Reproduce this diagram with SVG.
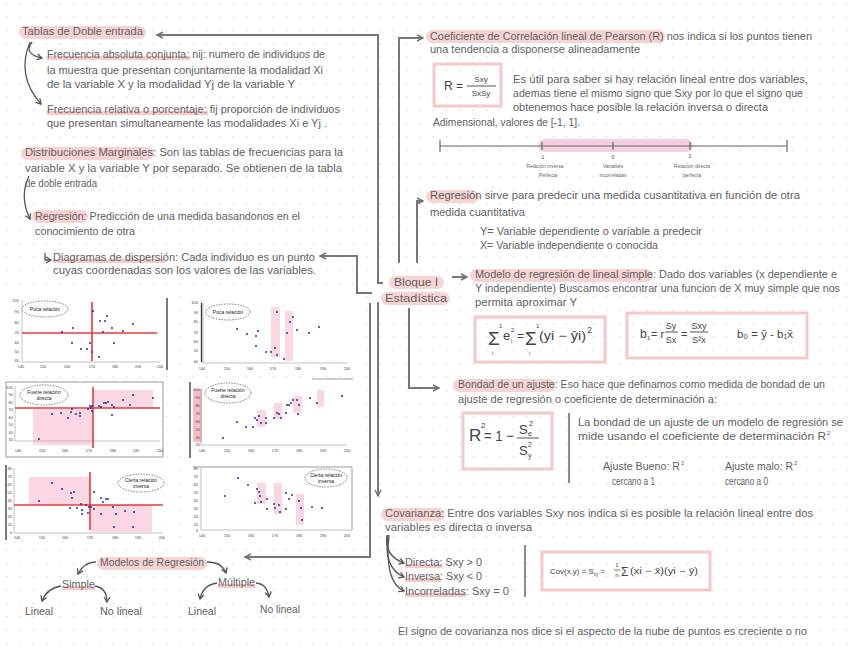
<svg xmlns="http://www.w3.org/2000/svg" width="848" height="656" viewBox="0 0 848 656">
<defs>
<pattern id="grid" x="6" y="3" width="13.33" height="13.33" patternUnits="userSpaceOnUse"><circle cx="0.7" cy="0.7" r="0.7" fill="#c9c9c9"/></pattern>
<marker id="ah" markerUnits="userSpaceOnUse" markerWidth="9" markerHeight="9" refX="7" refY="4" orient="auto"><path d="M1,1 L7,4 L1,7" fill="none" stroke="#707070" stroke-width="1.4"/></marker>
<marker id="ac" markerUnits="userSpaceOnUse" markerWidth="9" markerHeight="9" refX="6" refY="4" orient="auto"><path d="M1,1 L6,4 L1,7" fill="none" stroke="#555" stroke-width="1.3"/></marker>
<style>
.t{font-family:"Liberation Sans","DejaVu Sans",sans-serif;font-size:10px;fill:#616161}
.sup{font-family:"Liberation Sans","DejaVu Sans",sans-serif;font-size:6px;fill:#616161}
.f{font-family:"Liberation Sans","DejaVu Sans",sans-serif;fill:#444}
.s{font-family:"Liberation Sans","DejaVu Sans",sans-serif;font-size:5px;fill:#666;text-anchor:middle}
.n{font-family:"Liberation Sans","DejaVu Sans",sans-serif;font-size:6px;fill:#555;text-anchor:middle}
.pill{fill:#f8d3d3}
.ul{fill:#f7c9c9}
.box{fill:none;stroke:#f6c8c8;stroke-width:3}
.conn{fill:none;stroke:#777;stroke-width:2;marker-end:url(#ah)}
.cv{fill:none;stroke:#555;stroke-width:1.3;marker-end:url(#ac)}
.sep{stroke:#666;stroke-width:1.5}
.ax{stroke:#999;stroke-width:.6}
.bd{stroke:#333;stroke-width:1.3}
.rl{stroke:#e8383d;stroke-width:1.6}
.pk{fill:#fbd7e4}
.d circle{fill:#2a2f8f}
.tk{font-family:"Liberation Sans",sans-serif;font-size:4px;fill:#444}
.tky{font-family:"Liberation Sans",sans-serif;font-size:4px;fill:#444;text-anchor:end}
.el{fill:#fff;stroke:#444;stroke-width:.7;stroke-dasharray:1.5 1.2}
.elt{font-family:"Liberation Sans",sans-serif;font-size:5px;fill:#222;text-anchor:middle}
</style>
</defs>
<rect width="848" height="656" fill="#fff"/>
<rect width="848" height="656" fill="url(#grid)"/>

<g id="connectors">
<path class="conn" d="M383,283 H378 V35 H157"/>
<path class="conn" d="M399,263 V38 H423"/>
<path class="conn" d="M417,263 V201 H423"/>
<path class="conn" d="M372,293 H357 V256 H320"/>
<path class="conn" d="M370,303 V557 H245"/>
<path class="conn" d="M378,302 V496"/>
<path class="conn" d="M409,308 V388 H439"/>
<path class="conn" d="M452,277 H467"/>
<path class="cv" d="M32,42 Q23,54 42,58"/>
<path class="cv" d="M30,42 Q16,76 41,104"/>
<path class="cv" d="M29,176 Q19,196 30,219"/>
<path class="cv" d="M45,253 V260 H51"/>
<path class="cv" d="M96,562 Q84,562 78,574"/>
<path class="cv" d="M207,562 Q222,562 226,573"/>
<path class="cv" d="M61,586 Q47,588 42,601"/>
<path class="cv" d="M95,586 Q107,588 107,602"/>
<path class="cv" d="M217,583 Q203,585 200,599"/>
<path class="cv" d="M256,583 Q267,584 269,597"/>
<path class="cv" d="M387,535 Q384,556 404,563"/>
<path class="cv" d="M388,535 Q383,568 404,577"/>
<path class="cv" d="M389,535 Q384,582 404,591"/>
</g>

<g id="tablas">
<rect class="pill" x="19" y="26" width="127" height="13" rx="6.5"/>
<text class="t" x="22" y="35" textLength="121" lengthAdjust="spacingAndGlyphs">Tablas de Doble entrada</text>
</g>
<g id="frec-abs">
<rect class="ul" x="47" y="56" width="143" height="4"/>
<text class="t" x="47" y="58" textLength="278" lengthAdjust="spacingAndGlyphs">Frecuencia absoluta conjunta: nij: numero de individuos de</text>
<text class="t" x="47" y="74" textLength="276" lengthAdjust="spacingAndGlyphs">la muestra que presentan conjuntamente la modalidad Xi</text>
<text class="t" x="47" y="88" textLength="248" lengthAdjust="spacingAndGlyphs">de la variable X y la modalidad Yj de la variable Y</text>
</g>
<g id="frec-rel">
<rect class="ul" x="47" y="111" width="161" height="4"/>
<text class="t" x="47" y="113" textLength="293" lengthAdjust="spacingAndGlyphs">Frecuencia relativa o porcentaje: fij proporción de individuos</text>
<text class="t" x="47" y="127" textLength="280" lengthAdjust="spacingAndGlyphs">que presentan simultaneamente las modalidades Xi e Yj .</text>
</g>
<g id="distribuciones">
<rect class="pill" x="21" y="147" width="133" height="13" rx="6.5"/>
<text class="t" x="25" y="156" textLength="318" lengthAdjust="spacingAndGlyphs">Distribuciones Marginales: Son las tablas de frecuencias para la</text>
<text class="t" x="25" y="172" textLength="317" lengthAdjust="spacingAndGlyphs">variable X y la variable Y por separado. Se obtienen de la tabla</text>
<text class="t" x="25" y="187" textLength="72" lengthAdjust="spacingAndGlyphs">de doble entrada</text>
</g>
<g id="regresion-izq">
<rect class="pill" x="32" y="210" width="56" height="13" rx="6.5"/>
<text class="t" x="35" y="220" textLength="265" lengthAdjust="spacingAndGlyphs">Regresión: Predicción de una medida basandonos en el</text>
<text class="t" x="35" y="235" textLength="100" lengthAdjust="spacingAndGlyphs">conocimiento de otra</text>
</g>
<g id="diagramas">
<rect class="ul" x="53" y="259" width="112" height="4"/>
<text class="t" x="53" y="261" textLength="262" lengthAdjust="spacingAndGlyphs">Diagramas de dispersión: Cada individuo es un punto</text>
<text class="t" x="53" y="274" textLength="263" lengthAdjust="spacingAndGlyphs">cuyas coordenadas son los valores de las variables.</text>
</g>

<g id="plot1">
<rect x="5" y="296" width="162" height="75" fill="#fff"/>
<line class="ax" x1="22" y1="300" x2="22" y2="362"/><line class="ax" x1="22" y1="362" x2="160" y2="362"/>
<line class="bd" x1="167" y1="298" x2="167" y2="370"/>
<g class="tky"><text x="19" y="302">100</text><text x="19" y="313">90</text><text x="19" y="324">80</text><text x="19" y="334">70</text><text x="19" y="344">60</text><text x="19" y="353">50</text><text x="19" y="362">40</text></g>
<g class="tk" text-anchor="middle"><text x="21" y="368">140</text><text x="43" y="368">150</text><text x="67" y="368">160</text><text x="92" y="368">170</text><text x="115" y="368">180</text><text x="138" y="368">190</text><text x="160" y="368">200</text></g>
<line class="rl" x1="92" y1="302" x2="92" y2="361"/><line class="rl" x1="22" y1="333" x2="157" y2="333"/>
<g class="d"><circle cx="62" cy="332" r="1"/><circle cx="73" cy="328" r="1"/><circle cx="72" cy="343" r="1"/><circle cx="81" cy="349" r="1"/><circle cx="87" cy="349" r="1"/><circle cx="90" cy="343" r="1"/><circle cx="93" cy="311" r="1"/><circle cx="92" cy="352" r="1"/><circle cx="99" cy="357" r="1"/><circle cx="100" cy="321" r="1"/><circle cx="105" cy="321" r="1"/><circle cx="107" cy="316" r="1"/><circle cx="103" cy="332" r="1"/><circle cx="112" cy="328" r="1"/><circle cx="114" cy="343" r="1"/><circle cx="123" cy="331" r="1"/><circle cx="133" cy="324" r="1"/></g>
<ellipse class="el" cx="45" cy="309" rx="23" ry="8"/><text class="elt" x="45" y="311">Poca relación</text>
</g>

<g id="plot2">
<rect x="188" y="296" width="167" height="76" fill="#fff"/>
<line class="bd" x1="201.5" y1="303" x2="201.5" y2="362"/>
<line class="ax" x1="203" y1="302" x2="203" y2="363"/><line class="ax" x1="203" y1="363" x2="347" y2="363"/>
<g class="tky"><text x="198" y="304">100</text><text x="198" y="314">90</text><text x="198" y="323">80</text><text x="198" y="334">70</text><text x="198" y="343">60</text><text x="198" y="352">50</text><text x="198" y="363">40</text></g>
<g class="tk" text-anchor="middle"><text x="202" y="370">140</text><text x="227" y="370">150</text><text x="250" y="370">160</text><text x="273" y="370">170</text><text x="298" y="370">180</text><text x="323" y="370">190</text><text x="347" y="370">200</text></g>
<rect class="pk" x="271" y="307" width="9" height="50"/><rect class="pk" x="285" y="311" width="8" height="50"/>
<g class="d"><circle cx="237" cy="329" r="1"/><circle cx="247" cy="334" r="1"/><circle cx="256" cy="336" r="1"/><circle cx="258" cy="331" r="1"/><circle cx="256" cy="346" r="1"/><circle cx="266" cy="352" r="1"/><circle cx="271" cy="352" r="1"/><circle cx="275" cy="348" r="1"/><circle cx="277" cy="312" r="1"/><circle cx="277" cy="355" r="1"/><circle cx="284" cy="359" r="1"/><circle cx="287" cy="333" r="1"/><circle cx="290" cy="322" r="1"/><circle cx="293" cy="317" r="1"/><circle cx="297" cy="330" r="1"/><circle cx="309" cy="333" r="1"/><circle cx="319" cy="327" r="1"/></g>
<ellipse class="el" cx="228" cy="312" rx="22" ry="8"/><text class="elt" x="228" y="314">Poca relación</text>
</g>

<g id="plot3">
<rect x="6" y="382" width="157" height="75" fill="#fff" stroke="#aaa" stroke-width="1.2"/>
<rect class="pk" x="33" y="409" width="59" height="36"/><rect class="pk" x="93" y="390" width="60" height="18"/>
<line class="ax" x1="15" y1="386" x2="15" y2="441"/><line class="ax" x1="15" y1="441" x2="160" y2="441"/>
<g class="tky"><text x="13" y="389">100</text><text x="13" y="396">90</text><text x="13" y="404">80</text><text x="13" y="411">70</text><text x="13" y="419">60</text><text x="13" y="426">50</text><text x="13" y="434">40</text><text x="13" y="441">30</text></g>
<g class="tk" text-anchor="middle"><text x="18" y="452">140</text><text x="42" y="452">150</text><text x="65" y="452">160</text><text x="89" y="452">170</text><text x="113" y="452">180</text><text x="136" y="452">190</text><text x="160" y="452">200</text></g>
<line class="rl" x1="93" y1="387" x2="93" y2="448"/><line class="rl" x1="15" y1="408" x2="160" y2="408"/>
<g class="d"><circle cx="39" cy="439" r="1"/><circle cx="52" cy="414" r="1"/><circle cx="61" cy="413" r="1"/><circle cx="68" cy="418" r="1"/><circle cx="71" cy="412" r="1"/><circle cx="72" cy="409" r="1"/><circle cx="76" cy="414" r="1"/><circle cx="80" cy="413" r="1"/><circle cx="80" cy="416" r="1"/><circle cx="88" cy="409" r="1"/><circle cx="90" cy="406" r="1"/><circle cx="91" cy="408" r="1"/><circle cx="92" cy="411" r="1"/><circle cx="92" cy="406" r="1"/><circle cx="99" cy="406" r="1"/><circle cx="101" cy="407" r="1"/><circle cx="104" cy="403" r="1"/><circle cx="106" cy="403" r="1"/><circle cx="108" cy="402" r="1"/><circle cx="112" cy="405" r="1"/><circle cx="114" cy="407" r="1"/><circle cx="112" cy="415" r="1"/><circle cx="123" cy="400" r="1"/><circle cx="130" cy="405" r="1"/><circle cx="133" cy="395" r="1"/><circle cx="153" cy="398" r="1"/></g>
<ellipse class="el" cx="44" cy="395" rx="24" ry="10"/><text class="elt" x="44" y="394">Fuerte relación</text><text class="elt" x="44" y="400">directa</text>
</g>

<g id="plot4">
<rect x="188" y="378" width="167" height="80" fill="#fff"/>
<line x1="312" y1="379" x2="353" y2="379" stroke="#999" stroke-width="1"/>
<line class="bd" x1="190" y1="382" x2="190" y2="458"/>
<rect x="193" y="389" width="9" height="53" fill="#f7bcc6"/>
<line class="ax" x1="201" y1="389" x2="201" y2="445"/><line class="ax" x1="201" y1="445" x2="347" y2="445"/>
<g class="tky"><text x="200" y="391">100</text><text x="200" y="399">90</text><text x="200" y="407">80</text><text x="200" y="415">70</text><text x="200" y="423">60</text><text x="200" y="431">50</text><text x="200" y="439">40</text><text x="200" y="446">30</text></g>
<g class="tk" text-anchor="middle"><text x="202" y="452">140</text><text x="227" y="452">150</text><text x="251" y="452">160</text><text x="275" y="452">170</text><text x="299" y="452">180</text><text x="323" y="452">190</text><text x="347" y="452">200</text></g>
<rect class="pk" x="257" y="410" width="9" height="17"/><rect class="pk" x="274" y="403" width="8" height="16"/><rect class="pk" x="293" y="396" width="9" height="17"/><rect class="pk" x="317" y="390" width="7" height="17"/>
<g class="d"><circle cx="223" cy="438" r="1"/><circle cx="237" cy="422" r="1"/><circle cx="246" cy="427" r="1"/><circle cx="253" cy="427" r="1"/><circle cx="255" cy="418" r="1"/><circle cx="257" cy="420" r="1"/><circle cx="259" cy="416" r="1"/><circle cx="261" cy="423" r="1"/><circle cx="266" cy="418" r="1"/><circle cx="266" cy="423" r="1"/><circle cx="274" cy="418" r="1"/><circle cx="277" cy="413" r="1"/><circle cx="279" cy="414" r="1"/><circle cx="281" cy="418" r="1"/><circle cx="286" cy="413" r="1"/><circle cx="287" cy="405" r="1"/><circle cx="289" cy="405" r="1"/><circle cx="291" cy="403" r="1"/><circle cx="293" cy="400" r="1"/><circle cx="297" cy="400" r="1"/><circle cx="298" cy="414" r="1"/><circle cx="299" cy="405" r="1"/><circle cx="310" cy="398" r="1"/><circle cx="317" cy="403" r="1"/><circle cx="342" cy="396" r="1"/></g>
<ellipse class="el" cx="228" cy="393" rx="23" ry="10"/><text class="elt" x="228" y="392">Fuerte relación</text><text class="elt" x="228" y="398">directa</text>
</g>

<g id="plot5">
<rect x="5" y="462" width="162" height="79" fill="#fff"/>
<line class="bd" x1="6" y1="465" x2="6" y2="540"/>
<rect class="pk" x="29" y="477" width="61" height="28"/><rect class="pk" x="90" y="505" width="62" height="27"/>
<line class="ax" x1="14" y1="468" x2="14" y2="533"/><line class="ax" x1="14" y1="533" x2="163" y2="533"/>
<g class="tky"><text x="12" y="470">80</text><text x="12" y="478">70</text><text x="12" y="486">60</text><text x="12" y="494">50</text><text x="12" y="502">40</text><text x="12" y="510">30</text><text x="12" y="518">20</text><text x="12" y="526">10</text><text x="12" y="534">0</text></g>
<g class="tk" text-anchor="middle"><text x="17" y="539">140</text><text x="42" y="539">150</text><text x="65" y="539">160</text><text x="90" y="539">170</text><text x="115" y="539">180</text><text x="138" y="539">190</text><text x="162" y="539">200</text></g>
<line class="rl" x1="90" y1="472" x2="90" y2="530"/><line class="rl" x1="14" y1="505" x2="163" y2="505"/>
<g class="d"><circle cx="39" cy="501" r="1"/><circle cx="52" cy="483" r="1"/><circle cx="62" cy="489" r="1"/><circle cx="71" cy="493" r="1"/><circle cx="72" cy="498" r="1"/><circle cx="74" cy="492" r="1"/><circle cx="70" cy="508" r="1"/><circle cx="77" cy="508" r="1"/><circle cx="81" cy="504" r="1"/><circle cx="82" cy="510" r="1"/><circle cx="82" cy="514" r="1"/><circle cx="86" cy="505" r="1"/><circle cx="88" cy="513" r="1"/><circle cx="89" cy="507" r="1"/><circle cx="91" cy="507" r="1"/><circle cx="94" cy="492" r="1"/><circle cx="94" cy="509" r="1"/><circle cx="101" cy="514" r="1"/><circle cx="101" cy="498" r="1"/><circle cx="103" cy="502" r="1"/><circle cx="106" cy="499" r="1"/><circle cx="108" cy="499" r="1"/><circle cx="113" cy="507" r="1"/><circle cx="114" cy="527" r="1"/><circle cx="116" cy="514" r="1"/><circle cx="125" cy="511" r="1"/><circle cx="134" cy="512" r="1"/><circle cx="133" cy="527" r="1"/></g>
<ellipse class="el" cx="141" cy="483" rx="23" ry="9"/><text class="elt" x="141" y="482">Cierta relación</text><text class="elt" x="141" y="488">inversa</text>
</g>

<g id="plot6">
<rect x="188" y="462" width="167" height="79" fill="#fff"/>
<line x1="193" y1="467" x2="352" y2="467" stroke="#999" stroke-width="1"/>
<line x1="352" y1="467" x2="352" y2="530" stroke="#999" stroke-width="1"/>
<line class="ax" x1="201" y1="468" x2="201" y2="530"/><line class="ax" x1="201" y1="530" x2="352" y2="530"/>
<g class="tky"><text x="198" y="470">80</text><text x="198" y="478">70</text><text x="198" y="486">60</text><text x="198" y="494">50</text><text x="198" y="502">40</text><text x="198" y="510">30</text><text x="198" y="518">20</text><text x="198" y="526">10</text><text x="198" y="532">0</text></g>
<g class="tk" text-anchor="middle"><text x="202" y="537">140</text><text x="227" y="537">150</text><text x="251" y="537">160</text><text x="275" y="537">170</text><text x="299" y="537">180</text><text x="323" y="537">190</text><text x="347" y="537">200</text></g>
<rect class="pk" x="257" y="483" width="9" height="21"/><rect class="pk" x="274" y="483" width="8" height="31"/><rect class="pk" x="296" y="494" width="8" height="31"/>
<g class="d"><circle cx="225" cy="496" r="1"/><circle cx="238" cy="478" r="1"/><circle cx="248" cy="485" r="1"/><circle cx="255" cy="503" r="1"/><circle cx="257" cy="489" r="1"/><circle cx="259" cy="492" r="1"/><circle cx="261" cy="502" r="1"/><circle cx="260" cy="496" r="1"/><circle cx="267" cy="499" r="1"/><circle cx="267" cy="509" r="1"/><circle cx="274" cy="504" r="1"/><circle cx="275" cy="508" r="1"/><circle cx="279" cy="505" r="1"/><circle cx="280" cy="512" r="1"/><circle cx="286" cy="493" r="1"/><circle cx="286" cy="509" r="1"/><circle cx="289" cy="499" r="1"/><circle cx="292" cy="495" r="1"/><circle cx="299" cy="501" r="1"/><circle cx="301" cy="508" r="1"/><circle cx="302" cy="520" r="1"/><circle cx="312" cy="507" r="1"/><circle cx="322" cy="508" r="1"/></g>
<ellipse class="el" cx="326" cy="478" rx="21" ry="9"/><text class="elt" x="326" y="477">Cierta relación</text><text class="elt" x="326" y="483">inversa</text>
</g>

<g id="modelos">
<rect class="pill" x="97" y="557" width="110" height="13" rx="6.5"/>
<text class="t" x="100" y="566" textLength="104" lengthAdjust="spacingAndGlyphs">Modelos de Regresión</text>
</g>
<g id="simple">
<rect class="ul" x="62" y="586" width="33" height="4"/>
<text class="t" x="62" y="588" textLength="33" lengthAdjust="spacingAndGlyphs">Simple</text>
</g>
<g id="multiple">
<rect class="ul" x="218" y="584" width="37" height="4"/>
<text class="t" x="218" y="586" textLength="37" lengthAdjust="spacingAndGlyphs">Múltiple</text>
</g>
<g id="simple-lineal"><text class="t" x="25" y="615" textLength="28" lengthAdjust="spacingAndGlyphs">Lineal</text></g>
<g id="simple-nolineal"><text class="t" x="100" y="615" textLength="42" lengthAdjust="spacingAndGlyphs">No lineal</text></g>
<g id="multiple-lineal"><text class="t" x="188" y="615" textLength="28" lengthAdjust="spacingAndGlyphs">Lineal</text></g>
<g id="multiple-nolineal"><text class="t" x="260" y="613" textLength="40" lengthAdjust="spacingAndGlyphs">No lineal</text></g>

<g id="bloque">
<rect class="pill" x="389" y="276" width="55" height="13" rx="6.5"/>
<rect class="pill" x="381" y="292" width="69" height="13" rx="6.5"/>
<text class="t" x="394" y="285.5" textLength="44" lengthAdjust="spacingAndGlyphs">Bloque I</text>
<text class="t" x="385" y="301.5" textLength="62" lengthAdjust="spacingAndGlyphs">Estadística</text>
</g>

<g id="pearson">
<rect class="pill" x="426" y="30" width="239" height="13" rx="6.5"/>
<text class="t" x="430" y="40" textLength="382" lengthAdjust="spacingAndGlyphs">Coeficiente de Correlación lineal de Pearson (R) nos indica si los puntos tienen</text>
<text class="t" x="430" y="53" textLength="210" lengthAdjust="spacingAndGlyphs">una tendencia a disponerse alineadamente</text>
<rect class="box" x="434" y="64" width="67" height="42"/>
<text class="f" x="444" y="90" font-size="12">R =</text>
<line x1="467" y1="86" x2="496" y2="86" stroke="#555" stroke-width="1"/>
<text class="f" x="481" y="82" font-size="8" text-anchor="middle">Sxy</text>
<text class="f" x="481" y="96" font-size="8" text-anchor="middle">SxSy</text>
<text class="t" x="513" y="83" textLength="295" lengthAdjust="spacingAndGlyphs">Es útil para saber si hay relación lineal entre dos variables,</text>
<text class="t" x="513" y="97" textLength="290" lengthAdjust="spacingAndGlyphs">ademas tiene el mismo signo que Sxy por lo que el signo que</text>
<text class="t" x="513" y="111" textLength="255" lengthAdjust="spacingAndGlyphs">obtenemos hace posible la relación inversa o directa</text>
<text class="t" x="433" y="126" textLength="147" lengthAdjust="spacingAndGlyphs">Adimensional, valores de [-1, 1].</text>
</g>
<g id="recta-r">
<rect x="538" y="139" width="155" height="13" rx="6.5" fill="#f3cfe0"/>
<line x1="440" y1="146" x2="787" y2="146" stroke="#666" stroke-width="1.2"/>
<g stroke="#666" stroke-width="1.2"><line x1="440" y1="140" x2="440" y2="152"/><line x1="787" y1="140" x2="787" y2="152"/><line x1="542" y1="142" x2="542" y2="150"/><line x1="613" y1="142" x2="613" y2="150"/><line x1="690" y1="142" x2="690" y2="150"/></g>
<text class="n" x="542" y="159">-1</text><text class="n" x="613" y="159">0</text><text class="n" x="690" y="158">1</text>
<text class="s" x="545" y="168">Relación inversa</text><text class="s" x="548" y="177">Perfecta</text>
<text class="s" x="613" y="168">Variables</text><text class="s" x="613" y="177">incorreladas</text>
<text class="s" x="692" y="168">Relación directa</text><text class="s" x="692" y="177">perfecta</text>
</g>

<g id="regresion-der">
<rect class="pill" x="426" y="190" width="53" height="13" rx="6.5"/>
<text class="t" x="430" y="199" textLength="370" lengthAdjust="spacingAndGlyphs">Regresión  sirve para predecir una medida cusantitativa en función de otra</text>
<text class="t" x="430" y="216" textLength="95" lengthAdjust="spacingAndGlyphs">medida cuantitativa</text>
<text class="t" x="480" y="235" textLength="222" lengthAdjust="spacingAndGlyphs">Y= Variable dependiente o variable a predecir</text>
<text class="t" x="480" y="249" textLength="178" lengthAdjust="spacingAndGlyphs">X= Variable independiente o conocida</text>
</g>

<g id="modelo-lineal">
<rect class="pill" x="470" y="269" width="183" height="13" rx="6.5"/>
<text class="t" x="475" y="278" textLength="362" lengthAdjust="spacingAndGlyphs">Modelo de regresión de lineal simple: Dado dos variables (x dependiente e</text>
<text class="t" x="475" y="292" textLength="365" lengthAdjust="spacingAndGlyphs">Y independiente) Buscamos encontrar una funcion de X muy simple que nos</text>
<text class="t" x="475" y="306" textLength="102" lengthAdjust="spacingAndGlyphs">permita aproximar Y</text>
<rect class="box" x="475" y="317" width="130" height="45"/>
<text class="f" x="488" y="345" font-size="19">Σ</text>
<text class="f" x="499" y="328" font-size="6">1</text><text class="f" x="492" y="355" font-size="6">i</text>
<text class="f" x="503" y="340" font-size="13">e</text>
<text class="f" x="511" y="332" font-size="6">2</text><text class="f" x="511" y="343" font-size="6">i</text>
<text class="f" x="517" y="340" font-size="12">=</text>
<text class="f" x="525" y="345" font-size="19">Σ</text>
<text class="f" x="536" y="328" font-size="6">1</text><text class="f" x="529" y="355" font-size="6">i</text>
<text class="f" x="539" y="340" font-size="12" textLength="47" lengthAdjust="spacingAndGlyphs">(yi − ŷi)</text>
<text class="f" x="587" y="333" font-size="9">2</text>
<rect class="box" x="627" y="313" width="180" height="45"/>
<text class="f" x="640" y="338" font-size="12">b</text><text class="f" x="647" y="340" font-size="6">1</text>
<text class="f" x="651" y="338" font-size="11">= r</text>
<text class="f" x="671" y="329" font-size="9" text-anchor="middle">Sy</text>
<line x1="665" y1="332" x2="678" y2="332" stroke="#555" stroke-width="1"/>
<text class="f" x="671" y="343" font-size="9" text-anchor="middle">Sx</text>
<text class="f" x="681" y="338" font-size="11">=</text>
<text class="f" x="699" y="329" font-size="9" text-anchor="middle">Sxy</text>
<line x1="690" y1="332" x2="708" y2="332" stroke="#555" stroke-width="1"/>
<text class="f" x="699" y="343" font-size="9" text-anchor="middle">S²x</text>
<text class="f" x="737" y="338" font-size="11" textLength="56" lengthAdjust="spacingAndGlyphs">b₀ = ȳ - b₁x̄</text>
</g>

<g id="bondad">
<rect class="pill" x="453" y="379" width="102" height="13" rx="6.5"/>
<text class="t" x="458" y="388" textLength="367" lengthAdjust="spacingAndGlyphs">Bondad de un ajuste: Eso hace que definamos como medida de bondad de un</text>
<text class="t" x="458" y="403" textLength="259" lengthAdjust="spacingAndGlyphs">ajuste de regresión o coeficiente de determinación a:</text>
<rect class="box" x="463" y="413" width="89" height="56"/>
<text class="f" x="469" y="441" font-size="17">R</text>
<text class="f" x="481" y="428" font-size="8">2</text>
<text class="f" x="484" y="441" font-size="15" textLength="30" lengthAdjust="spacingAndGlyphs">= 1 −</text>
<text class="f" x="519" y="434" font-size="13">S</text><text class="f" x="528" y="436" font-size="7">e</text><text class="f" x="529" y="426" font-size="7">2</text>
<line x1="517" y1="438" x2="539" y2="438" stroke="#555" stroke-width="1"/>
<text class="f" x="519" y="455" font-size="13">S</text><text class="f" x="528" y="458" font-size="7">y</text><text class="f" x="528" y="447" font-size="7">2</text>
<line class="sep" x1="569" y1="413" x2="569" y2="483"/>
<text class="t" x="578" y="426" textLength="265" lengthAdjust="spacingAndGlyphs">La bondad de un ajuste de un modelo de regresión se</text>
<text class="t" x="578" y="440" textLength="248" lengthAdjust="spacingAndGlyphs">mide usando el coeficiente de determinación R</text>
<text class="sup" x="827" y="435">2</text>
<text class="t" x="603" y="470" textLength="77" lengthAdjust="spacingAndGlyphs">Ajuste Bueno: R</text>
<text class="sup" x="681" y="465">2</text>
<text class="t" x="612" y="485" textLength="43" lengthAdjust="spacingAndGlyphs">cercano a 1</text>
<text class="t" x="725" y="470" textLength="68" lengthAdjust="spacingAndGlyphs">Ajuste malo: R</text>
<text class="sup" x="794" y="465">2</text>
<text class="t" x="725" y="485" textLength="43" lengthAdjust="spacingAndGlyphs">cercano a 0</text>
</g>

<g id="covarianza">
<rect class="pill" x="381" y="508" width="64" height="13" rx="6.5"/>
<text class="t" x="385" y="517" textLength="428" lengthAdjust="spacingAndGlyphs">Covarianza: Entre dos variables Sxy nos indica si es posible la relación lineal entre dos</text>
<text class="t" x="385" y="531" textLength="147" lengthAdjust="spacingAndGlyphs">variables es directa o inversa</text>
<rect class="ul" x="405" y="564" width="37" height="4"/>
<text class="t" x="405" y="566" textLength="77" lengthAdjust="spacingAndGlyphs">Directa: Sxy &gt; 0</text>
<rect class="ul" x="405" y="578" width="36" height="4"/>
<text class="t" x="405" y="580" textLength="77" lengthAdjust="spacingAndGlyphs">Inversa: Sxy &lt; 0</text>
<rect class="ul" x="405" y="593" width="61" height="4"/>
<text class="t" x="405" y="595" textLength="104" lengthAdjust="spacingAndGlyphs">Incorreladas: Sxy = 0</text>
<line class="sep" x1="525" y1="545" x2="525" y2="597"/>
<rect class="box" x="542" y="552" width="168" height="38"/>
<text class="f" x="550" y="574" font-size="8" textLength="55" lengthAdjust="spacingAndGlyphs">Cov(x,y) = S<tspan font-size="4.5" dy="2">xy</tspan><tspan font-size="8" dy="-2"> =</tspan></text>
<text class="f" x="617" y="567" font-size="6" text-anchor="middle">1</text>
<line x1="614" y1="570" x2="620" y2="570" stroke="#555" stroke-width=".8"/>
<text class="f" x="617" y="577" font-size="6" text-anchor="middle">n</text>
<text class="f" x="621" y="576" font-size="12">Σ</text>
<text class="f" x="630" y="574" font-size="9" textLength="68" lengthAdjust="spacingAndGlyphs">(xi − x̄)(yi − ȳ)</text>
<text class="t" x="398" y="635" textLength="409" lengthAdjust="spacingAndGlyphs">El signo de covarianza nos dice si el aspecto de la nube de puntos es creciente o no</text>
</g>
</svg>
